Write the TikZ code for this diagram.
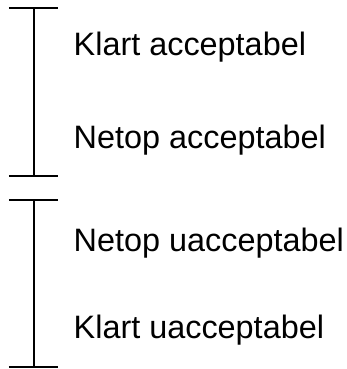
\documentclass[tikz,border=0pt]{standalone}
\usepackage{fontspec}
\setmainfont{Liberation Sans}
\begin{document}
\begin{tikzpicture}[x=1bp,y=-1bp,
  scalebar/.style={line width=2bp,line cap=butt},
  label/.style={anchor=base west,inner sep=0pt,font=\fontsize{32.4bp}{38bp}\selectfont}]
\useasboundingbox (0,0) rectangle (347,369);
% upper bar: acceptable range
\coordinate (t1) at (33.5,7.7);
\coordinate (t2) at (33.5,176.3);
\draw[scalebar] (t1) -- (t2);
\draw[scalebar] ([xshift=-24.5bp]t1) -- ([xshift=24.8bp]t1);
\draw[scalebar] ([xshift=-24.5bp]t2) -- ([xshift=24.8bp]t2);
% lower bar: unacceptable range
\coordinate (b1) at (33.5,200.3);
\coordinate (b2) at (33.5,366.7);
\draw[scalebar] (b1) -- (b2);
\draw[scalebar] ([xshift=-24.5bp]b1) -- ([xshift=24.8bp]b1);
\draw[scalebar] ([xshift=-24.5bp]b2) -- ([xshift=24.8bp]b2);
% labels
\node[label] (l1) at (73.5,55.7) {Klart acceptabel};
\node[label] (l2) at (73.5,148.3) {Netop acceptabel};
\node[label] (l3) at (73.5,251) {Netop uacceptabel};
\node[label] (l4) at (73.5,338.3) {Klart uacceptabel};
\end{tikzpicture}
\end{document}
